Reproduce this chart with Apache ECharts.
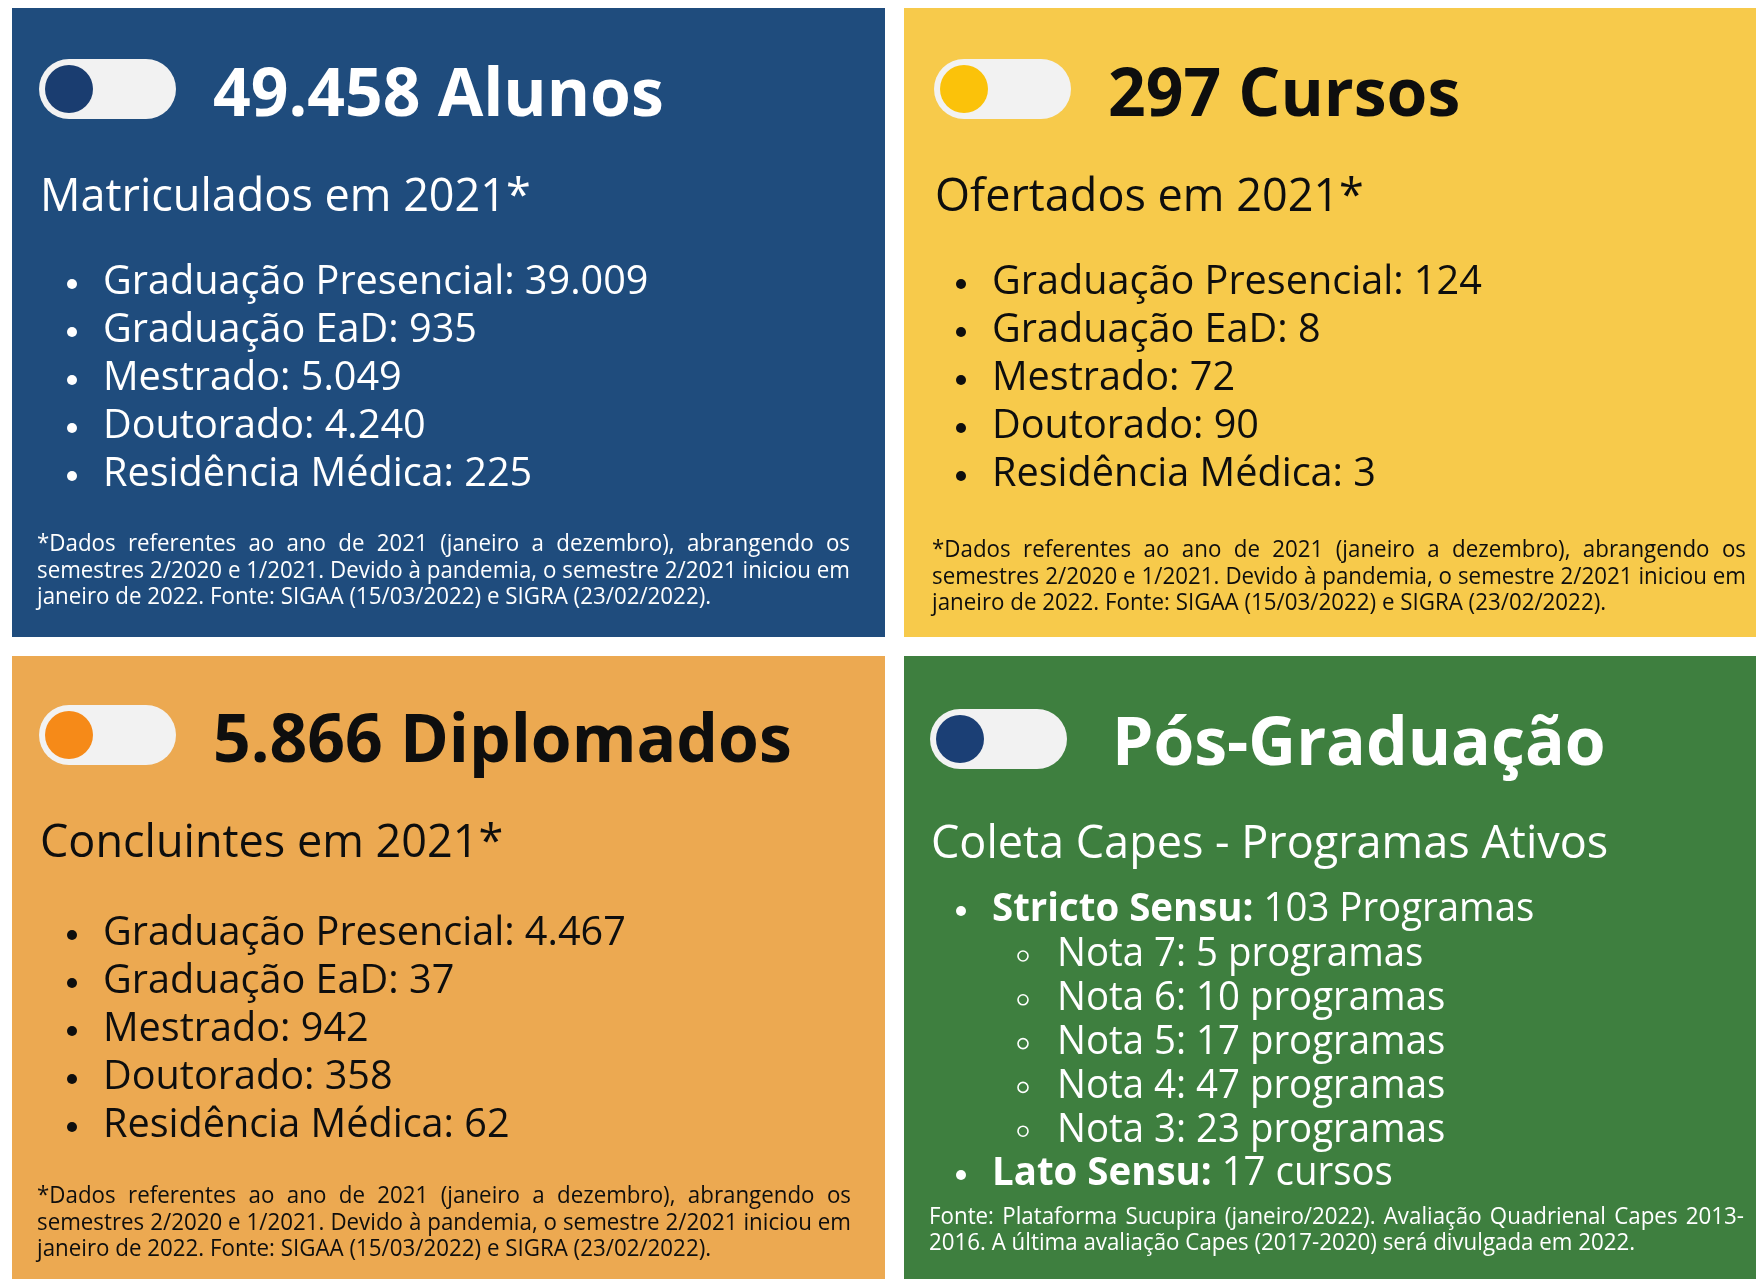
<!DOCTYPE html>
<html>
<head>
<meta charset="utf-8">
<script src="https://cdn.jsdelivr.net/npm/echarts@6/dist/echarts.min.js"></script>
<style>
  html, body { margin: 0; padding: 0; background: #ffffff; }
  #main { width: 1756px; height: 1279px; }
</style>
</head>
<body>
<div id="main"></div>
<script>
// dados
var itemLabels = ['Graduação Presencial', 'Graduação EaD', 'Mestrado', 'Doutorado', 'Residência Médica'];
var alunosValues = ['39.009', '935', '5.049', '4.240', '225'];
var cursosValues = ['124', '8', '72', '90', '3'];
var diplomadosValues = ['4.467', '37', '942', '358', '62'];
var totals = ['49.458', '297', '5.866'];
var notaLabels = ['Nota 7', 'Nota 6', 'Nota 5', 'Nota 4', 'Nota 3'];
var notaValues = [5, 10, 17, 47, 23];
var strictoTotal = 103;
var latoTotal = 17;

var footLines = [
  '*Dados referentes ao ano de 2021 (janeiro a dezembro), abrangendo os',
  'semestres 2/2020 e 1/2021. Devido à pandemia, o semestre 2/2021 iniciou em',
  'janeiro de 2022. Fonte: SIGAA (15/03/2022) e SIGRA (23/02/2022).'
];
var posFootLines = [
  'Fonte: Plataforma Sucupira (janeiro/2022). Avaliação Quadrienal Capes 2013-',
  '2016. A última avaliação Capes (2017-2020) será divulgada em 2022.'
];

var FONT = '"Open Sans", "Noto Sans", sans-serif';
var chart = echarts.init(document.getElementById('main'));
var g = [];

var cv = document.createElement('canvas').getContext('2d');
function measure(s, size, weight) {
  cv.font = (weight || 'normal') + ' ' + size + 'px ' + FONT;
  return cv.measureText(s).width;
}

function txt(s, x, y, size, color, opts) {
  opts = opts || {};
  var el = {
    type: 'text', x: x, y: y, z: 10,
    style: {
      text: s, fill: color, fontSize: size, fontFamily: FONT,
      fontWeight: opts.weight || 'normal',
      verticalAlign: 'middle', align: 'left', rich: opts.rich
    }
  };
  if (opts.scaleX) { el.scaleX = opts.scaleX; }
  g.push(el);
}

// linha justificada: distribui as palavras entre x0 e x1
function justify(line, x0, x1, y, size, color, sx) {
  var words = line.split(' ');
  var widths = words.map(function (w) { return measure(w, size) * sx; });
  var total = widths.reduce(function (a, b) { return a + b; }, 0);
  var gap = (x1 - x0 - total) / (words.length - 1);
  var x = x0;
  words.forEach(function (w, i) {
    txt(w, x, y, size, color, { scaleX: sx });
    x += widths[i] + gap;
  });
}

function toggle(x, y, knob) {
  g.push({ type: 'rect', shape: { x: x, y: y, width: 137, height: 60, r: 30 }, style: { fill: '#F2F2F2' }, z: 5 });
  g.push({ type: 'circle', shape: { cx: x + 30, cy: y + 30, r: 24 }, style: { fill: knob }, z: 6 });
}

function panel(x, y, w, h, fill, deco) {
  g.push({ type: 'rect', shape: { x: x, y: y, width: w, height: h }, style: { fill: fill }, z: 1 });
  g.push({
    type: 'group', x: 0, y: 0, z: 2,
    clipPath: { type: 'rect', shape: { x: x, y: y, width: w, height: h } },
    children: deco
  });
}

function decoArcs(ox, oy, color) {
  var list = [];
  [[ox + 760, oy + 150, 170, 0.3, 2.6], [ox + 780, oy + 40, 110, 0.2, 2.9],
   [ox + 330, oy + 430, 190, 3.6, 5.6], [ox + 820, oy + 560, 140, 3.3, 4.4],
   [ox + 860, oy + 600, 95, 3.3, 4.4], [ox + 60, oy + 60, 90, 1.6, 3.2]].forEach(function (a) {
    list.push({
      type: 'arc', shape: { cx: a[0], cy: a[1], r: a[2], startAngle: a[3], endAngle: a[4] },
      style: { stroke: color, lineWidth: 16, fill: null, opacity: 0.06 }
    });
  });
  return list;
}

var panels = [
  { x: 12, y: 8, w: 873, h: 629, fill: '#1F4C7D', knob: '#1A3D70', color: '#FFFFFF', deco: '#FFFFFF' },
  { x: 904, y: 8, w: 852, h: 629, fill: '#F7CA4B', knob: '#FBC20A', color: '#0E0E0E', deco: '#C99A1A' },
  { x: 12, y: 656, w: 873, h: 623, fill: '#ECA951', knob: '#F68A18', color: '#0E0E0E', deco: '#B8782A' },
  { x: 904, y: 656, w: 852, h: 623, fill: '#3E7F3F', knob: '#1B3F75', color: '#FFFFFF', deco: '#8FD08F' }
];
panels.forEach(function (p) { panel(p.x, p.y, p.w, p.h, p.fill, decoArcs(p.x, p.y, p.deco)); });

var TITLE = 66, SUB = 45, ITEM = 40, ISX = 0.99, GSX = 0.96, FOOT = 24, FSX = 0.93;

// três painéis com lista simples
var blocks = [
  { p: panels[0], tx: 39, ty: 59, title: totals[0] + ' Alunos', sub: 'Matriculados em 2021*', vals: alunosValues, dx: 72, ly: 283, fy: 544, fx1: 850 },
  { p: panels[1], tx: 934, ty: 59, title: totals[1] + ' Cursos', sub: 'Ofertados em 2021*', vals: cursosValues, dx: 961, ly: 283, fy: 550, fx1: 1746 },
  { p: panels[2], tx: 39, ty: 705, title: totals[2] + ' Diplomados', sub: 'Concluintes em 2021*', vals: diplomadosValues, dx: 72, ly: 934, fy: 1196, fx1: 851 }
];

blocks.forEach(function (b) {
  var c = b.p.color;
  toggle(b.tx, b.ty, b.p.knob);
  txt(b.title, b.tx + 174, b.ty + 38, TITLE, c, { weight: 'bold' });
  txt(b.sub, b.tx + 1, b.ty + 139, SUB, c);
  b.vals.forEach(function (v, i) {
    var yy = b.ly + i * 48;
    g.push({ type: 'circle', shape: { cx: b.dx, cy: yy + 1, r: 5 }, style: { fill: c }, z: 10 });
    txt(itemLabels[i] + ': ' + v, b.dx + 31, yy, ITEM, c, { scaleX: ISX });
  });
  var fx0 = b.tx - 2;
  justify(footLines[0], fx0, b.fx1, b.fy, FOOT, c, FSX);
  justify(footLines[1], fx0, b.fx1, b.fy + 27, FOOT, c, FSX);
  txt(footLines[2], fx0, b.fy + 53, FOOT, c, { scaleX: FSX });
});

// painel Pós-Graduação
(function () {
  var p = panels[3], c = p.color;
  toggle(930, 709, p.knob);
  txt('Pós-Graduação', 1112, 746, TITLE, c, { weight: 'bold' });
  txt('Coleta Capes - Programas Ativos', 931, 845, SUB, c);
  var rich = { b: { fontWeight: 'bold', fontSize: ITEM, fontFamily: FONT, fill: c } };
  g.push({ type: 'circle', shape: { cx: 961, cy: 911, r: 5 }, style: { fill: c }, z: 10 });
  txt('{b|Stricto Sensu:} ' + strictoTotal + ' Programas', 992, 910, ITEM, c, { rich: rich, scaleX: GSX });
  notaLabels.forEach(function (n, i) {
    var yy = 955 + i * 43.8;
    g.push({ type: 'circle', shape: { cx: 1023, cy: yy + 1, r: 5 }, style: { fill: null, stroke: c, lineWidth: 1.6 }, z: 10 });
    txt(n + ': ' + notaValues[i] + ' programas', 1057, yy, ITEM, c, { scaleX: GSX });
  });
  g.push({ type: 'circle', shape: { cx: 961, cy: 1175, r: 5 }, style: { fill: c }, z: 10 });
  txt('{b|Lato Sensu:} ' + latoTotal + ' cursos', 992, 1174, ITEM, c, { rich: rich, scaleX: GSX });
  justify(posFootLines[0], 929, 1744, 1217, FOOT, c, FSX);
  txt(posFootLines[1], 929, 1243, FOOT, c, { scaleX: FSX });
})();

chart.setOption({ backgroundColor: '#FFFFFF', animation: false, graphic: { elements: g } });
</script>
</body>
</html>
